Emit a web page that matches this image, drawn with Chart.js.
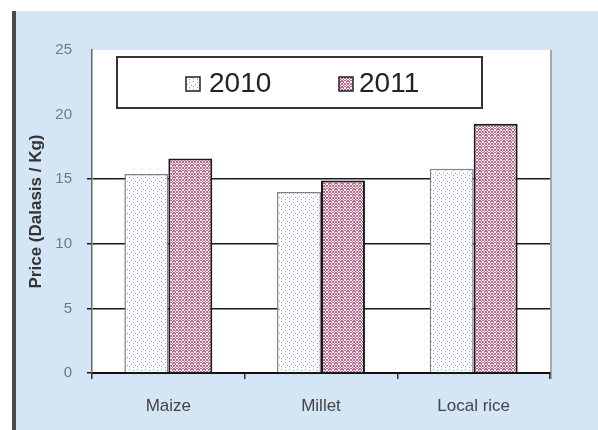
<!DOCTYPE html>
<html><head><meta charset="utf-8">
<script src="https://cdn.jsdelivr.net/npm/chart.js@4"></script>
<style>html,body{margin:0;padding:0;background:#fff}canvas{display:block}</style>
</head><body><canvas id="c" width="598" height="430"></canvas>
<script>
const categories = ['Maize', 'Millet', 'Local rice'];
const series2010 = [15.4, 14.0, 15.8];
const series2011 = [16.6, 14.9, 19.3];
const seriesLabels = ['2010', '2011'];
const yTicks = [0, 5, 10, 15, 20, 25];

const canvas = document.getElementById('c');
const ctx = canvas.getContext('2d');

function makePattern(kind) {
  const p = document.createElement('canvas');
  const g = p.getContext('2d');
  if (kind === 'dots') {
    p.width = 8; p.height = 8;
    g.fillStyle = '#ffffff'; g.fillRect(0, 0, 8, 8);
    g.fillStyle = '#8c98f2';
    [[1,1],[5,2],[3,4],[7,5],[1,6],[5,7]].forEach(([x,y]) => g.fillRect(x, y, 1, 1));
  } else {
    p.width = 6; p.height = 6;
    g.fillStyle = '#f8eef2'; g.fillRect(0, 0, 6, 6);
    g.fillStyle = '#bd6b8d';
    const rows = ['101101','010010','101101','110011','010010','101101'];
    rows.forEach((r, y) => { for (let x = 0; x < 6; x++) if (r[x] === '1') g.fillRect(x, y, 1, 1); });
  }
  return ctx.createPattern(p, 'repeat');
}
const pat2010 = makePattern('dots');
const pat2011 = makePattern('checks');

Chart.defaults.font.family = "'Liberation Sans', Arial, sans-serif";

const bgPlugin = {
  id: 'bg',
  beforeDraw(chart) {
    const c = chart.ctx, a = chart.chartArea;
    c.save();
    c.fillStyle = '#ffffff'; c.fillRect(0, 0, 598, 430);
    c.fillStyle = '#d4e5f5'; c.fillRect(16, 11, 582, 419);
    c.fillStyle = '#4a4a4a'; c.fillRect(12, 11, 4, 419);
    c.fillStyle = '#ffffff'; c.fillRect(a.left, a.top, a.right - a.left, a.bottom - a.top);
    c.fillStyle = '#a8a8a8'; c.fillRect(a.right, a.top, 2, a.bottom - a.top + 6);
    c.restore();
  }
};

const legendPlugin = {
  id: 'boxLegend',
  afterDatasetsDraw(chart) {
    const c = chart.ctx;
    c.save();
    c.fillStyle = '#ffffff';
    c.fillRect(117, 57, 365, 51);
    c.strokeStyle = '#333333'; c.lineWidth = 2;
    c.strokeRect(117, 57, 365, 51);
    const items = [
      {x: 186, tx: 209, fill: pat2010, label: chart.data.datasets[0].label},
      {x: 339, tx: 359, fill: pat2011, label: chart.data.datasets[1].label}
    ];
    items.forEach(it => {
      c.fillStyle = it.fill; c.fillRect(it.x, 77, 14, 14);
      c.strokeStyle = '#222'; c.lineWidth = 1.5; c.strokeRect(it.x, 77, 14, 14);
      c.fillStyle = '#222'; c.font = "28px 'Liberation Sans', Arial, sans-serif";
      c.textBaseline = 'middle'; c.textAlign = 'left';
      c.fillText(it.label, it.tx, 84);
    });
    c.restore();
  }
};

new Chart(ctx, {
  type: 'bar',
  data: {
    labels: categories,
    datasets: [
      {label: seriesLabels[0], data: series2010, backgroundColor: pat2010, borderColor: '#808080', borderWidth: 1.5, borderSkipped: 'bottom'},
      {label: seriesLabels[1], data: series2011, backgroundColor: pat2011, borderColor: '#1a1a1a', borderWidth: 2, borderSkipped: 'bottom'}
    ]
  },
  options: {
    responsive: false, animation: false, devicePixelRatio: 1,
    layout: {padding: {left: 0, top: 50, right: 48, bottom: 0}},
    datasets: {bar: {categoryPercentage: 0.576, barPercentage: 1}},
    plugins: {legend: {display: false}, tooltip: {enabled: false}},
    scales: {
      x: {
        grid: {offset: true, drawOnChartArea: false, color: '#333', tickLength: 6, lineWidth: 1.5},
        border: {color: '#111', width: 2},
        ticks: {color: '#444', font: {size: 17}, padding: 17},
        afterFit: s => { s.height = 57; }
      },
      y: {
        min: 0, max: 25,
        afterBuildTicks: s => { s.ticks = yTicks.map(v => ({value: v})); },
        grid: {color: c => (c.tick && c.tick.value <= 15) ? '#1a1a1a' : 'rgba(0,0,0,0)', lineWidth: 1.5, tickLength: 5},
        border: {color: '#666', width: 1.5},
        ticks: {color: '#777', font: {size: 15}, padding: 15},
        title: {display: true, text: 'Price (Dalasis / Kg)', font: {size: 17, weight: 'bold'}, color: '#333', padding: {top: 26, bottom: 0}},
        afterFit: s => { s.width = 92; }
      }
    }
  },
  plugins: [bgPlugin, legendPlugin]
});
</script>
</body></html>
